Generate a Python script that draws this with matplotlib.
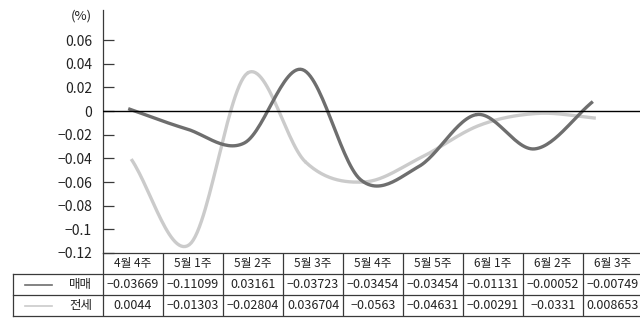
import numpy as np
import matplotlib
matplotlib.use("Agg")
import matplotlib.pyplot as plt

plt.rcParams['font.family'] = ['Noto Sans CJK KR', 'DejaVu Sans']
plt.rcParams['axes.unicode_minus'] = True

# week labels and table values as printed under the chart
weeks = ['4월 4주', '5월 1주', '5월 2주', '5월 3주', '5월 4주', '5월 5주', '6월 1주', '6월 2주', '6월 3주']
row_names = ['매매', '전세']
sale_text = ['−0.03669', '−0.11099', '0.03161', '−0.03723', '−0.03454',
             '−0.03454', '−0.01131', '−0.00052', '−0.00749']
jeonse_text = ['0.0044', '−0.01303', '−0.02804', '0.036704', '−0.0563',
               '−0.04631', '−0.00291', '−0.0331', '0.008653']

# curve values as drawn (light and dark lines)
light_vals = [-0.0406, -0.113, 0.032, -0.043, -0.060, -0.039, -0.012, -0.002, -0.006]
dark_vals = [0.002, -0.015, -0.027, 0.035, -0.058, -0.047, -0.003, -0.032, 0.008]

yticks = [0.06, 0.04, 0.02, 0, -0.02, -0.04, -0.06, -0.08, -0.1, -0.12]
ytick_labels = ['0.06', '0.04', '0.02', '0', '−0.02', '−0.04', '−0.06', '−0.08', '−0.1', '−0.12']

dark_col = '#6e6e6e'
light_col = '#cbcbcb'
edge_col = '#3a3a3a'
text_col = '#222222'


def smooth(x, y, steps=30):
    # Catmull-Rom through every point
    x = np.asarray(x, float)
    y = np.asarray(y, float)
    px = np.concatenate([[2 * x[0] - x[1]], x, [2 * x[-1] - x[-2]]])
    py = np.concatenate([[2 * y[0] - y[1]], y, [2 * y[-1] - y[-2]]])
    t = np.linspace(0, 1, steps)[:, None]
    outx, outy = [], []
    for i in range(1, len(px) - 2):
        for p, out in ((px, outx), (py, outy)):
            p0, p1, p2, p3 = p[i - 1], p[i], p[i + 1], p[i + 2]
            seg = 0.5 * ((2 * p1) + (-p0 + p2) * t + (2 * p0 - 5 * p1 + 4 * p2 - p3) * t ** 2
                         + (-p0 + 3 * p1 - 3 * p2 + p3) * t ** 3)
            out.append(seg.ravel())
    return np.concatenate(outx), np.concatenate(outy)


W, H = 640, 318
fig = plt.figure(figsize=(W / 100, H / 100), dpi=100)

x_right = (W - 133) / 60.0

# main plot
ax = fig.add_axes([103 / W, (H - 253) / H, (W - 103) / W, (253 - 10) / H])
ax.set_xlim(-0.5, x_right)
ax.set_ylim(-0.12, 0.0854)
for s in ['top', 'right', 'bottom']:
    ax.spines[s].set_visible(False)
ax.spines['left'].set_color(edge_col)
ax.spines['left'].set_linewidth(0.9)
ax.set_xticks([])
ax.set_yticks(yticks)
ax.set_yticklabels(ytick_labels, fontsize=10, color=text_col)
ax.tick_params(axis='y', direction='in', length=8, width=0.9, color=edge_col, pad=8)
ax.axhline(0, color='black', lw=1.0, zorder=3)

xs = np.arange(len(weeks)) * 0.968 - 0.08
lx, ly = smooth(xs + 0.05, light_vals)
dx, dy = smooth(xs, dark_vals)
ax.plot(lx, ly, color=light_col, lw=2.4, solid_capstyle='butt', zorder=2)
ax.plot(dx, dy, color=dark_col, lw=2.4, solid_capstyle='butt', zorder=2)
ax.text(-0.02, 0.975, '(%)', transform=ax.transAxes, ha='right', va='center',
        fontsize=9.5, color=text_col)

# data table under the plot
tax = fig.add_axes([13 / W, (H - 316) / H, (W - 13) / W, 63 / H])
tax.set_xlim(-2, x_right)
tax.set_ylim(0, 3)
tax.axis('off')

lw = 0.9
for y in [0, 1, 2]:
    tax.plot([-2, x_right], [y, y], color=edge_col, lw=lw, clip_on=False)
tax.plot([-0.5, x_right], [3, 3], color=edge_col, lw=lw, clip_on=False)
tax.plot([-2, -2], [0, 2], color=edge_col, lw=lw, clip_on=False)
for i in range(len(weeks) + 1):
    tax.plot([i - 0.5, i - 0.5], [0, 3], color=edge_col, lw=lw, clip_on=True)

for i, w in enumerate(weeks):
    tax.text(i, 2.5, w, ha='center', va='center', fontsize=8.5, color=text_col)
    tax.text(i, 1.5, sale_text[i], ha='center', va='center', fontsize=9, color=text_col)
    tax.text(i, 0.5, jeonse_text[i], ha='center', va='center', fontsize=9, color=text_col)

for yc, name, col in [(1.5, row_names[0], dark_col), (0.5, row_names[1], light_col)]:
    tax.plot([-1.8, -1.35], [yc, yc], color=col, lw=1.2)
    tax.text(-0.68, yc, name, ha='right', va='center', fontsize=9, color=text_col)

fig.savefig('out.png', dpi=100)
